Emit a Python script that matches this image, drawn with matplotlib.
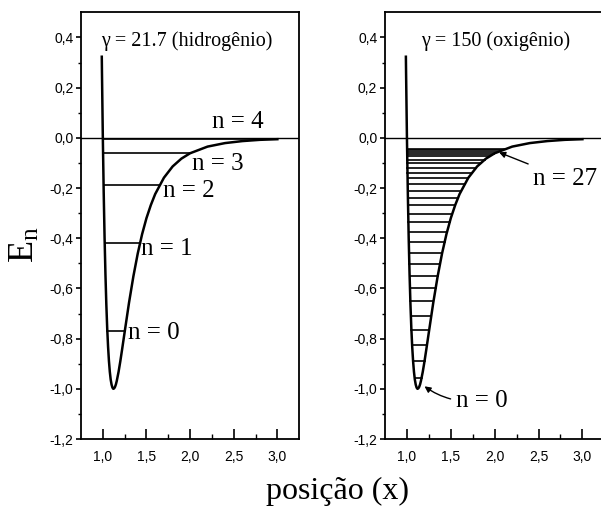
import numpy as np
import matplotlib
matplotlib.use("Agg")
import matplotlib.pyplot as plt

plt.rcParams['font.family'] = ['Liberation Serif', 'DejaVu Serif']
plt.rcParams['mathtext.fontset'] = 'custom'
plt.rcParams['mathtext.rm'] = 'Liberation Serif'
plt.rcParams['mathtext.it'] = 'Liberation Serif:italic'

# potential curve (same well in both panels)
x_pot = [0.988, 0.99, 1.00, 1.01, 1.02, 1.03, 1.04, 1.05, 1.06, 1.07, 1.08,
         1.09, 1.10, 1.11, 1.12, 1.13, 1.14, 1.15, 1.16, 1.18, 1.20, 1.22,
         1.25, 1.30, 1.35, 1.40, 1.45, 1.50, 1.55, 1.60, 1.70, 1.80, 1.90,
         2.00, 2.20, 2.40, 2.60, 2.80, 3.00]
v_pot = [0.323, 0.264, 0.000, -0.218, -0.398, -0.544, -0.663, -0.758, -0.832,
         -0.889, -0.932, -0.963, -0.983, -0.995, -1.000, -0.998, -0.992,
         -0.982, -0.968, -0.933, -0.891, -0.845, -0.774, -0.657, -0.552,
         -0.461, -0.384, -0.320, -0.268, -0.224, -0.159, -0.114, -0.083,
         -0.0615, -0.035, -0.021, -0.013, -0.008, -0.0055]

# energy levels
levels_h = [-0.768, -0.420, -0.187, -0.060, -0.005]
levels_o = [-0.955, -0.890, -0.825, -0.765, -0.708, -0.652, -0.600, -0.550,
            -0.502, -0.457, -0.414, -0.374, -0.337, -0.302, -0.269, -0.239,
            -0.211, -0.185, -0.161, -0.139, -0.119, -0.102, -0.087, -0.074,
            -0.064, -0.056, -0.050, -0.045]

labels_h = ["n = 0", "n = 1", "n = 2", "n = 3", "n = 4"]
label_pos_h = [(1.29, -0.803), (1.44, -0.466), (1.69, -0.236),
               (2.02, -0.130), (2.25, 0.041)]

yticks = [-1.2, -1.0, -0.8, -0.6, -0.4, -0.2, 0.0, 0.2, 0.4]
ytick_labels = ["-1,2", "-1,0", "-0,8", "-0,6", "-0,4", "-0,2", "0,0", "0,2", "0,4"]
xticks = [1.0, 1.5, 2.0, 2.5, 3.0]
xtick_labels = ["1,0", "1,5", "2,0", "2,5", "3,0"]

x_pot = np.array(x_pot)
v_pot = np.array(v_pot)
imin = int(np.argmin(v_pot))
# left and right branches of the well, to find where each level meets the wall
xl, vl = x_pot[:imin + 1][::-1], v_pot[:imin + 1][::-1]
xr, vr = x_pot[imin:], v_pot[imin:]


def level_ends(e):
    return np.interp(e, vl, xl), np.interp(e, vr, xr)


fig = plt.figure(figsize=(6.01, 5.13), dpi=100)
ax1 = fig.add_axes([0.1348, 0.1442, 0.3630, 0.8318])
ax2 = fig.add_axes([0.6406, 0.1442, 0.3650, 0.8318])

for ax, levels in [(ax1, levels_h), (ax2, levels_o)]:
    ax.axhline(0, color="black", lw=1.0)
    for e in levels:
        a, b = level_ends(e)
        ax.plot([a, b], [e, e], color="black", lw=1.2)
    ax.plot(x_pot, v_pot, color="black", lw=1.8)
    ax.set_xlim(0.75, 3.25)
    ax.set_ylim(-1.2, 0.5)
    ax.set_xticks(xticks, labels=xtick_labels, fontfamily="Liberation Sans", fontsize=10)
    ax.set_yticks(yticks, labels=ytick_labels, fontfamily="Liberation Sans", fontsize=10)
    ax.set_xticks([1.25, 1.75, 2.25, 2.75], minor=True)
    ax.set_yticks(np.arange(-1.1, 0.5, 0.2), minor=True)
    ax.tick_params(axis="x", which="major", direction="in", length=7, width=1.2, pad=8)
    ax.tick_params(axis="x", which="minor", direction="in", length=3.5, width=1.0)
    ax.tick_params(axis="y", which="major", direction="out", length=3.5, width=1.2, pad=2)
    ax.tick_params(axis="y", which="minor", direction="out", length=2, width=1.0)
    for s in ax.spines.values():
        s.set_linewidth(1.3)

ax1.text(0.98, 0.364, "γ = 21.7 (hidrogênio)", fontsize=14.5, va="baseline")
for lab, (tx, ty) in zip(labels_h, label_pos_h):
    ax1.text(tx, ty, lab, fontsize=18, va="baseline")

ax2.text(1.156, 0.364, "γ = 150 (oxigênio)", fontsize=14.5, va="baseline")
ax2.annotate("n = 27", xy=(2.05, -0.058), xytext=(2.44, -0.187),
             fontsize=18, va="baseline",
             arrowprops=dict(arrowstyle="-|>", color="black", lw=1.0,
                             mutation_scale=9, shrinkA=2, shrinkB=0))
ax2.annotate("n = 0", xy=(1.2, -0.99), xytext=(1.56, -1.071),
             fontsize=18, va="baseline",
             arrowprops=dict(arrowstyle="-|>", color="black", lw=1.0,
                             mutation_scale=9, shrinkA=2, shrinkB=0,
                             connectionstyle="arc3,rad=-0.2"))

fig.text(25 / 601, 1 - 245 / 513, r"E$_\mathrm{n}$", rotation=90, fontsize=26,
         ha="center", va="center")
fig.text(338 / 601, 1 - 491 / 513, "posição (x)", fontsize=23,
         ha="center", va="center")

fig.savefig("out.png", dpi=100)
